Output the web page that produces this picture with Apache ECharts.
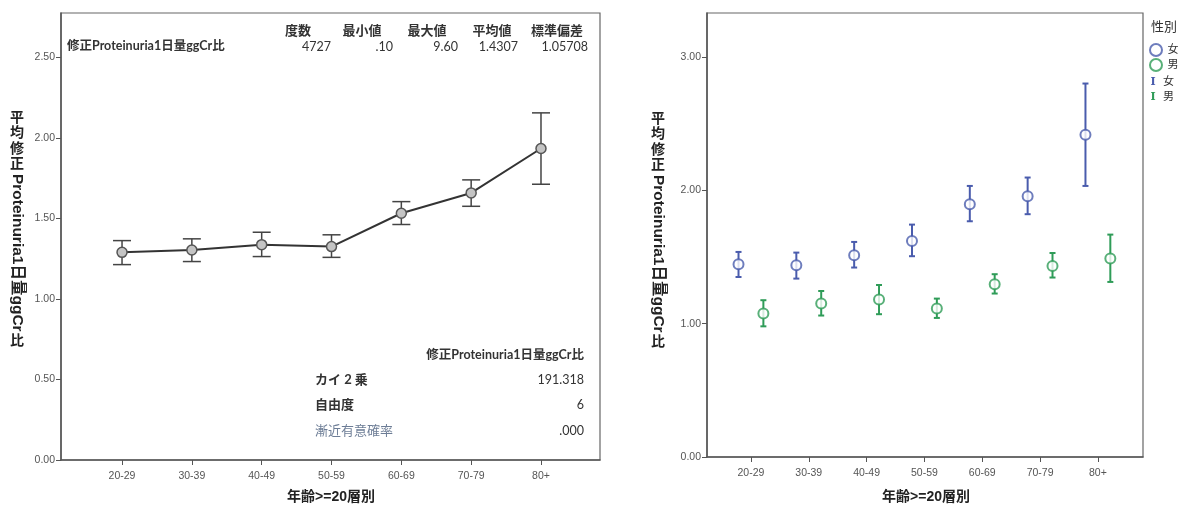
<!DOCTYPE html>
<html>
<head>
<meta charset="utf-8">
<script src="https://cdn.jsdelivr.net/npm/echarts@6/dist/echarts.min.js"></script>
<style>
html,body{margin:0;padding:0;background:#fff;}
#chart{width:1179px;height:506px;}
</style>
</head>
<body>
<div id="chart"></div>
<script>
// ---------- data ----------
const categories = ['20-29','30-39','40-49','50-59','60-69','70-79','80+'];

// left panel: overall mean with 95% CI
const overallMean = [1.289, 1.304, 1.337, 1.325, 1.532, 1.658, 1.934];
const overallLow  = [1.213, 1.232, 1.263, 1.258, 1.462, 1.575, 1.712];
const overallHigh = [1.362, 1.373, 1.414, 1.398, 1.604, 1.739, 2.155];

// right panel: by sex
const femaleMean = [1.445, 1.438, 1.513, 1.620, 1.896, 1.956, 2.416];
const femaleLow  = [1.350, 1.338, 1.421, 1.506, 1.768, 1.821, 2.033];
const femaleHigh = [1.538, 1.533, 1.613, 1.743, 2.033, 2.096, 2.801];
const maleMean   = [1.076, 1.151, 1.181, 1.113, 1.296, 1.433, 1.488];
const maleLow    = [0.980, 1.061, 1.071, 1.043, 1.226, 1.346, 1.313];
const maleHigh   = [1.176, 1.245, 1.290, 1.188, 1.371, 1.530, 1.668];

const leftYTicks  = [0, 0.5, 1.0, 1.5, 2.0, 2.5];
const rightYTicks = [0, 1.0, 2.0, 3.0];

// descriptive statistics table (left panel)
const descHeaders = ['度数', '最小値', '最大値', '平均値', '標準偏差'];
const descValues  = ['4727', '.10', '9.60', '1.4307', '1.05708'];
const varName = '修正Proteinuria1日量ggCr比';
const testLabels = ['カイ 2 乗', '自由度', '漸近有意確率'];
const testValues = ['191.318', '6', '.000'];

const yTitleUp1 = ['平', '均', '修', '正'];
const yTitleSide = 'Proteinuria1日量ggCr';
const yTitleUp2 = ['比'];
const xTitle = '年齢>=20層別';
const legendTitle = '性別';
const sexNames = ['女', '男'];

// ---------- styling ----------
const BLUE = '#4a5cad';
const GREEN = '#2f9c58';
const AXIS = '#555';
const narrow = "'Liberation Sans Narrow','Arial Narrow','Liberation Sans',sans-serif";
const tableFont = "Lato,'Noto Sans CJK JP',sans-serif";
const titleFont = "'Liberation Sans','Noto Sans CJK JP',sans-serif";

const catIdx = categories.map((c, i) => i);

const measureCtx = document.createElement('canvas').getContext('2d');
function textWidth(text, font) { measureCtx.font = font; return measureCtx.measureText(text).width; }

function errBar(capHalf, color, lw) {
  return function (params, api) {
    const x = api.value(0);
    const lo = api.coord([x, api.value(1)]);
    const hi = api.coord([x, api.value(2)]);
    const st = { stroke: color, lineWidth: lw };
    return {
      type: 'group',
      children: [
        { type: 'line', shape: { x1: lo[0], y1: lo[1], x2: hi[0], y2: hi[1] }, style: st },
        { type: 'line', shape: { x1: hi[0] - capHalf, y1: hi[1], x2: hi[0] + capHalf, y2: hi[1] }, style: st },
        { type: 'line', shape: { x1: lo[0] - capHalf, y1: lo[1], x2: lo[0] + capHalf, y2: lo[1] }, style: st }
      ]
    };
  };
}

function xAxisCfg(gridIndex, min, max) {
  return {
    type: 'value', gridIndex, min, max,
    axisLine: { show: true, onZero: false, lineStyle: { color: AXIS, width: 1.5 } },
    axisTick: { show: true, length: 5, customValues: catIdx, lineStyle: { color: AXIS } },
    axisLabel: { show: true, customValues: catIdx, margin: 11, color: '#555', fontSize: 10.5, fontFamily: narrow,
      formatter: v => categories[Math.round(v)] },
    splitLine: { show: false }
  };
}
function yAxisCfg(gridIndex, max, ticks) {
  return {
    type: 'value', gridIndex, min: 0, max,
    axisLine: { show: true, onZero: false, lineStyle: { color: AXIS, width: 1.5 } },
    axisTick: { show: true, length: 5, customValues: ticks, lineStyle: { color: AXIS } },
    axisLabel: { show: true, customValues: ticks, margin: 6, color: '#555', fontSize: 10.5, fontFamily: narrow,
      formatter: v => v.toFixed(2) },
    splitLine: { show: false }
  };
}

// vertical y-axis title helper (CJK upright, Latin sideways)
function yTitle(cx, top) {
  const els = [];
  let y = top;
  const pitch = 15.5;
  const cjkFont = "bold 14px " + titleFont;
  const sideFont = "bold 15.5px " + titleFont;
  yTitleUp1.forEach(ch => {
    els.push({ type: 'text', x: cx, y: y, style: { text: ch, font: cjkFont, fill: '#222', align: 'center', verticalAlign: 'top' } });
    y += pitch;
  });
  y += 1;
  els.push({ type: 'text', x: cx, y: y, rotation: -Math.PI / 2,
    style: { text: yTitleSide, font: sideFont, fill: '#222', align: 'left', verticalAlign: 'middle' } });
  y += textWidth(yTitleSide, sideFont) + 3;
  yTitleUp2.forEach(ch => {
    els.push({ type: 'text', x: cx, y: y, style: { text: ch, font: cjkFont, fill: '#222', align: 'center', verticalAlign: 'top' } });
    y += pitch;
  });
  return els;
}

const graphics = [];
// descriptive table
const headerCenters = [298, 362, 427, 492, 557];
const valueRights = [331, 393, 458, 518, 588];
descHeaders.forEach((h, i) => graphics.push({ type: 'text', x: headerCenters[i], y: 31,
  style: { text: h, font: "bold 13px " + tableFont, fill: '#333', align: 'center', verticalAlign: 'middle' } }));
descValues.forEach((v, i) => graphics.push({ type: 'text', x: valueRights[i], y: 47,
  style: { text: v, font: "12.5px " + tableFont, fill: '#333', align: 'right', verticalAlign: 'middle' } }));
graphics.push({ type: 'text', x: 67, y: 46,
  style: { text: varName, font: "bold 12.5px " + tableFont, fill: '#333', align: 'left', verticalAlign: 'middle' } });
// chi-square table
graphics.push({ type: 'text', x: 584, y: 355,
  style: { text: varName, font: "bold 12.5px " + tableFont, fill: '#333', align: 'right', verticalAlign: 'middle' } });
const testY = [380, 405, 431];
testLabels.forEach((t, i) => {
  graphics.push({ type: 'text', x: 315, y: testY[i],
    style: { text: t, font: (i < 2 ? "bold " : "") + "13px " + tableFont, fill: i < 2 ? '#333' : '#6d7d96', align: 'left', verticalAlign: 'middle' } });
  graphics.push({ type: 'text', x: 584, y: testY[i],
    style: { text: testValues[i], font: "12.5px " + tableFont, fill: '#333', align: 'right', verticalAlign: 'middle' } });
});
// axis titles
yTitle(17, 111).forEach(e => graphics.push(e));
yTitle(658, 112).forEach(e => graphics.push(e));
graphics.push({ type: 'text', x: 331, y: 497, style: { text: xTitle, font: "bold 14px " + titleFont, fill: '#222', align: 'center', verticalAlign: 'middle' } });
graphics.push({ type: 'text', x: 926, y: 497, style: { text: xTitle, font: "bold 14px " + titleFont, fill: '#222', align: 'center', verticalAlign: 'middle' } });
// legend extras
graphics.push({ type: 'text', x: 1151, y: 27, style: { text: legendTitle, font: "13px " + titleFont, fill: '#333', align: 'left', verticalAlign: 'middle' } });
[BLUE, GREEN].forEach((c, i) => {
  const yy = 82 + i * 15;
  graphics.push({ type: 'text', x: 1153, y: yy, style: { text: 'I', font: "bold 11px 'DejaVu Serif',serif", fill: c, align: 'center', verticalAlign: 'middle' } });
  graphics.push({ type: 'text', x: 1163, y: yy, style: { text: sexNames[i], font: "11px " + titleFont, fill: '#333', align: 'left', verticalAlign: 'middle' } });
});

const OFF = 0.215;
const chart = echarts.init(document.getElementById('chart'));
chart.setOption({
  animation: false,
  backgroundColor: '#fff',
  grid: [
    { left: 61, top: 13, width: 539, height: 447, show: true, borderColor: '#666', borderWidth: 1.2, containLabel: false },
    { left: 707, top: 13, width: 436, height: 444, show: true, borderColor: '#666', borderWidth: 1.2, containLabel: false }
  ],
  xAxis: [ xAxisCfg(0, -0.874, 6.845), xAxisCfg(1, -0.76, 6.78) ],
  yAxis: [ yAxisCfg(0, 2.775, leftYTicks), yAxisCfg(1, 3.33, rightYTicks) ],
  legend: {
    data: sexNames, orient: 'vertical', left: 1149, top: 43, itemGap: 1, itemWidth: 13, itemHeight: 12,
    textStyle: { fontSize: 11, color: '#333', fontFamily: titleFont }, padding: 0, selectedMode: false
  },
  graphic: graphics,
  series: [
    { type: 'custom', name: 'ci-all', xAxisIndex: 0, yAxisIndex: 0, z: 2,
      renderItem: errBar(9, '#444', 1.5), encode: { x: 0, y: [1, 2] },
      data: catIdx.map(i => [i, overallLow[i], overallHigh[i]]) },
    { type: 'line', name: 'mean-all', xAxisIndex: 0, yAxisIndex: 0, z: 3,
      data: catIdx.map(i => [i, overallMean[i]]),
      lineStyle: { color: '#333', width: 2 }, symbol: 'circle', symbolSize: 10,
      itemStyle: { color: '#c4c4c4', borderColor: '#555', borderWidth: 1.5 } },
    { type: 'custom', name: 'ci-f', xAxisIndex: 1, yAxisIndex: 1, z: 2,
      renderItem: errBar(3, BLUE, 2), encode: { x: 0, y: [1, 2] },
      data: catIdx.map(i => [i - OFF, femaleLow[i], femaleHigh[i]]) },
    { type: 'custom', name: 'ci-m', xAxisIndex: 1, yAxisIndex: 1, z: 2,
      renderItem: errBar(3, GREEN, 2), encode: { x: 0, y: [1, 2] },
      data: catIdx.map(i => [i + OFF, maleLow[i], maleHigh[i]]) },
    { type: 'scatter', name: sexNames[0], xAxisIndex: 1, yAxisIndex: 1, z: 3,
      symbol: 'emptyCircle', symbolSize: 10,
      itemStyle: { color: BLUE, borderWidth: 1.5 },
      data: catIdx.map(i => [i - OFF, femaleMean[i]]) },
    { type: 'scatter', name: sexNames[1], xAxisIndex: 1, yAxisIndex: 1, z: 3,
      symbol: 'emptyCircle', symbolSize: 10,
      itemStyle: { color: GREEN, borderWidth: 1.5 },
      data: catIdx.map(i => [i + OFF, maleMean[i]]) }
  ]
});
</script>
</body>
</html>
